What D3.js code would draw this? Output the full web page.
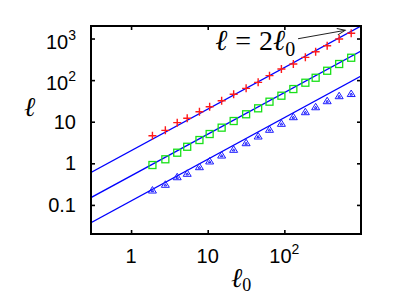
<!DOCTYPE html>
<html>
<head>
<meta charset="utf-8">
<script src="https://cdn.jsdelivr.net/npm/d3@7"></script>
<style>
  body { margin: 0; background: #fff; }
  .tick-label { font-family: 'Liberation Sans', Arial, sans-serif; font-size: 20px; fill: #000; }
  .math { font-family: 'Liberation Serif', 'DejaVu Serif', serif; fill: #000; }
  .ell { font-family: 'DejaVu Serif', serif; font-style: italic; font-size: 27px; }
</style>
</head>
<body>
<div class="chart"></div>
<script>
var l0 = [1.9, 2.8, 4.0, 5.4, 7.8, 10.6, 15.2, 21.8, 31.7, 45.5, 64, 91.5, 131, 188, 256, 362, 519, 745];
var redValues = [4.6, 6.2, 9.5, 12.1, 17.4, 22.9, 32, 45.6, 63.5, 88.5, 128, 185, 244, 353, 482, 672, 973, 1334];
var greenValues = [0.91, 1.25, 1.8, 2.5, 3.63, 5.06, 7.2, 10.4, 15.1, 21, 30.3, 42.2, 61, 86.6, 114, 168, 244, 345];
var blueValues = [0.228, 0.313, 0.476, 0.575, 0.83, 1.14, 1.58, 2.17, 3.13, 4.53, 6.57, 9.15, 13.2, 17.4, 22.9, 32, 42.2, 47.6];
var fitSlopes = [2, 0.5, 0.125];

var xTicks = [1, 10, 100];
var xTickLabels = [['1', ''], ['10', ''], ['10', '2']];
var yTicks = [0.1, 1, 10, 100, 1000];
var yTickLabels = [['0.1', ''], ['1', ''], ['10', ''], ['10', '2'], ['10', '3']];

// annotation anchors, in data units
var noteText = [12.5, 520];
var noteArrow = [[151, 989], [622, 1574]];

var width = 399, height = 295;
var margin = {top: 26, left: 91, right: 38, bottom: 61};

var svg = d3.select('.chart')
    .append('svg')
    .attr('width', width)
    .attr('height', height);

var x = d3.scaleLog()
    .domain([0.3, 1000])
    .range([margin.left, width - margin.right]);

var y = d3.scaleLog()
    .domain([0.02, 2000])
    .range([height - margin.bottom, margin.top]);

var pLeft = x.range()[0], pRight = x.range()[1];
var pBottom = y.range()[0], pTop = y.range()[1];

var defs = svg.append('defs');
defs.append('clipPath')
    .attr('id', 'plot-clip')
    .append('rect')
    .attr('x', pLeft)
    .attr('y', pTop)
    .attr('width', pRight - pLeft)
    .attr('height', pBottom - pTop);

defs.append('marker')
    .attr('id', 'arrow')
    .attr('viewBox', '0 0 10 10')
    .attr('refX', 10)
    .attr('refY', 5)
    .attr('markerWidth', 14)
    .attr('markerHeight', 8)
    .attr('markerUnits', 'userSpaceOnUse')
    .attr('orient', 'auto')
    .append('path')
    .attr('d', 'M0,1 L10,5 L0,9')
    .attr('fill', 'none')
    .attr('stroke', '#222')
    .attr('stroke-width', 1.2);

// fit lines
var plot = svg.append('g').attr('clip-path', 'url(#plot-clip)');
var line = d3.line()
    .x(function(d) { return x(d[0]) })
    .y(function(d) { return y(d[1]) });

plot.selectAll('.fit')
    .data(fitSlopes)
    .enter()
    .append('path')
    .attr('class', 'fit')
    .attr('fill', 'none')
    .attr('stroke', '#0000ff')
    .attr('stroke-width', 1.3)
    .attr('d', function(k) {
        return line(x.domain().map(function(v) { return [v, k * v] }));
    });

// markers
function pts(values) {
    return values.map(function(v, i) { return [l0[i], v] });
}

plot.selectAll('.cross')
    .data(pts(redValues))
    .enter()
    .append('path')
    .attr('class', 'cross')
    .attr('transform', function(d) { return 'translate(' + x(d[0]) + ',' + y(d[1]) + ')' })
    .attr('d', 'M-4,0H4M0,-4V4')
    .attr('stroke', '#ff1a1a')
    .attr('stroke-width', 1.4);

plot.selectAll('.square')
    .data(pts(greenValues))
    .enter()
    .append('rect')
    .attr('class', 'square')
    .attr('x', function(d) { return x(d[0]) - 3.5 })
    .attr('y', function(d) { return y(d[1]) - 3.5 })
    .attr('width', 7)
    .attr('height', 7)
    .attr('fill', 'none')
    .attr('stroke', '#18e018')
    .attr('stroke-width', 1.3);

plot.selectAll('.tri')
    .data(pts(blueValues))
    .enter()
    .append('path')
    .attr('class', 'tri')
    .attr('transform', function(d) { return 'translate(' + x(d[0]) + ',' + y(d[1]) + ')' })
    .attr('d', 'M-4,3L0,-3.5L4,3Z M-1.3,1.6L0,-0.5L1.3,1.6Z')
    .attr('fill', 'none')
    .attr('stroke', '#1a1aff')
    .attr('stroke-width', 1);

// ticks on all four sides
function tickAxis(axis, values, tx, ty) {
    var g = svg.append('g')
        .attr('transform', 'translate(' + tx + ',' + ty + ')')
        .call(axis.tickValues(values).tickSize(-4).tickFormat(''));
    g.select('.domain').remove();
    g.selectAll('.tick line').attr('stroke', '#000').attr('stroke-width', 1.6);
    return g;
}

tickAxis(d3.axisBottom(x), xTicks, 0, pBottom);
tickAxis(d3.axisTop(x), xTicks, 0, pTop);
tickAxis(d3.axisLeft(y), yTicks, pLeft, 0);
tickAxis(d3.axisRight(y), yTicks, pRight, 0);

svg.append('rect')
    .attr('x', pLeft)
    .attr('y', pTop)
    .attr('width', pRight - pLeft)
    .attr('height', pBottom - pTop)
    .attr('fill', 'none')
    .attr('stroke', '#000')
    .attr('stroke-width', 2);

// tick labels
function addLabel(t, parts) {
    t.append('tspan').text(parts[0]);
    if (parts[1]) {
        t.append('tspan')
            .attr('dy', -9)
            .style('font-size', '14px')
            .text(parts[1]);
    }
}

svg.selectAll('.xlab')
    .data(xTicks)
    .enter()
    .append('text')
    .attr('class', 'tick-label')
    .attr('x', function(d) { return x(d) })
    .attr('y', pBottom + 29)
    .attr('text-anchor', 'middle')
    .each(function(d, i) { addLabel(d3.select(this), xTickLabels[i]) });

svg.selectAll('.ylab')
    .data(yTicks)
    .enter()
    .append('text')
    .attr('class', 'tick-label')
    .attr('x', pLeft - 15)
    .attr('y', function(d, i) { return y(d) + (yTickLabels[i][1] ? 10 : 7) })
    .attr('text-anchor', 'end')
    .each(function(d, i) { addLabel(d3.select(this), yTickLabels[i]) });

// axis titles
svg.append('text')
    .attr('class', 'math ell')
    .attr('x', 24)
    .attr('y', 116)
    .text('\u2113');

var xTitle = svg.append('text')
    .attr('class', 'math')
    .attr('x', 231)
    .attr('y', 287)
    .style('font-size', '23px');
xTitle.append('tspan').attr('class', 'ell').text('\u2113');
xTitle.append('tspan').attr('dy', 4).style('font-size', '18px').text('0');

// annotation
var note = svg.append('text')
    .attr('class', 'math')
    .attr('x', x(noteText[0]))
    .attr('y', y(noteText[1]))
    .style('font-size', '28px');
note.append('tspan').attr('class', 'ell').style('font-size', '29px').text('\u2113');
note.append('tspan').attr('dx', 8).text('=');
note.append('tspan').attr('dx', 8).text('2');
note.append('tspan').attr('class', 'ell').style('font-size', '29px').text('\u2113');
note.append('tspan').attr('dy', 6).style('font-size', '20px').text('0');

svg.append('path')
    .attr('d', line(noteArrow))
    .attr('fill', 'none')
    .attr('stroke', '#222')
    .attr('stroke-width', 1)
    .attr('marker-end', 'url(#arrow)');
</script>
</body>
</html>
